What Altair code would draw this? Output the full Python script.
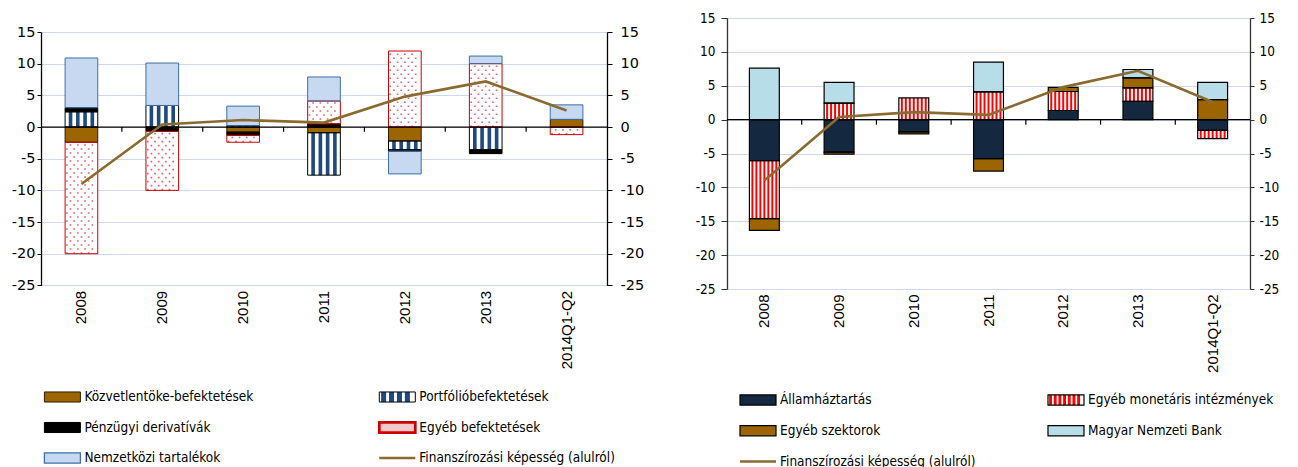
import altair as alt
import pandas as pd

years = ["2008", "2009", "2010", "2011", "2012", "2013", "2014Q1-Q2"]

# Left chart: financial account by instrument (% of GDP)
left_series = ["Közvetlentöke-befektetések", "Portfólióbefektetések", "Pénzügyi derivatívák",
               "Egyéb befektetések", "Nemzetközi tartalékok"]
fdi = [-2.4, -0.2, -0.8, -0.9, -2.2, 0.0, 1.2]
portfolio = [2.4, 3.4, 0.2, -6.7, -1.4, -3.6, 0.0]
derivatives = [0.65, -0.5, -0.5, 0.5, -0.2, -0.6, 0.0]
other_inv = [-17.6, -9.3, -1.1, 3.6, 12.0, 10.0, -1.2]
reserves = [7.85, 6.7, 3.1, 3.8, -3.6, 1.2, 2.3]

# Right chart: by sector
right_series = ["Államháztartás", "Egyéb monetáris intézmények", "Egyéb szektorok", "Magyar Nemzeti Bank"]
government = [-6.05, -4.8, -1.8, -5.75, 1.35, 2.7, -1.6]
other_mfi = [-8.55, 2.45, 3.2, 4.1, 2.8, 2.0, -1.2]
other_sectors = [-1.75, -0.3, -0.3, -1.85, 0.6, 1.45, 2.95]
mnb = [7.6, 3.05, 0.0, 4.4, 0.0, 1.25, 2.55]

financing = [-9.0, 0.4, 1.1, 0.7, 4.8, 7.2, 2.6]
line_label = "Finanszírozási képesség (alulról)"

y_ticks = [-25, -20, -15, -10, -5, 0, 5, 10, 15]

LINE_COL = "#8b6a2f"
FONT_NARROW = "DejaVu Sans Condensed"
LABEL_EXPR = "'' + datum.value"


def stack(names, lists):
    rows = []
    for i, yr in enumerate(years):
        pos, neg = 0.0, 0.0
        for k, (nm, vals) in enumerate(zip(names, lists)):
            v = vals[i]
            if v == 0:
                continue
            if v > 0:
                lo, hi = pos, pos + v
                pos = hi
            else:
                lo, hi = neg + v, neg
                neg = lo
            rows.append({"year": yr, "series": nm, "order": k, "lo": lo, "hi": hi})
    return pd.DataFrame(rows)


def expand(df, name, n):
    sub = df[df["series"] == name]
    rows = []
    for _, r in sub.iterrows():
        for s in range(n):
            d = r.to_dict()
            d["s"] = s
            rows.append(d)
    return pd.DataFrame(rows)


def panel(names, lists, W, H, top, band, fills, strokes, widths, stripe_name, stripe_n, stripe_col,
          yfont, yfs, lpadL, tickL, lpadR, tickR, domcol, dots_name=None):
    df = stack(names, lists)
    step = W / len(years)
    bw = step * band
    off_range = [(step - bw) / 2, (step + bw) / 2]
    xs = alt.Scale(domain=years, paddingInner=0, paddingOuter=0)
    xax = alt.Axis(title=None, labelAngle=270, domain=False, ticks=False, labelPadding=5,
                   labelFont="Liberation Sans", labelFontSize=15, labelColor="black", grid=False)
    X = alt.X("year:N", scale=xs, axis=xax, sort=years)
    ys = alt.Scale(domain=[-25, 15], nice=False, zero=False, range=[H, top])
    yax = alt.Axis(title=None, values=y_ticks, grid=True, gridColor="#cdd9ee", gridWidth=1,
                   domainColor=domcol, domainWidth=1.3, tickColor=domcol, tickSize=tickL,
                   labelPadding=lpadL, labelFont=yfont, labelFontSize=yfs, labelColor="black",
                   labelExpr=LABEL_EXPR)

    def Y(f):
        return alt.Y(f, scale=ys, axis=yax)

    base = alt.Chart(df).mark_bar(width=alt.RelativeBandSize(band)).encode(
        x=X, y=Y("lo:Q"), y2="hi:Q",
        fill=alt.Fill("series:N", scale=alt.Scale(domain=names, range=fills), legend=None))

    layers = [base]
    sd = expand(df, stripe_name, stripe_n)
    sd = sd[sd["s"] % 2 == 1]
    stripes = alt.Chart(sd).mark_bar(color=stripe_col).encode(
        x=X, xOffset=alt.XOffset("s:O", scale=alt.Scale(domain=list(range(stripe_n)), paddingInner=0,
                                                        paddingOuter=0, range=off_range)),
        y=Y("lo:Q"), y2="hi:Q")
    layers.append(stripes)

    if dots_name is not None:
        nd = 8
        dd = expand(df, dots_name, nd)
        for parity, off in [(0, 0), (1, 4)]:
            part = dd[dd["s"] % 2 == parity]
            dots = alt.Chart(part).mark_rule(color="#e06a6a", strokeWidth=1.7, strokeDash=[1.6, 6.4],
                                             strokeDashOffset=off).encode(
                x=X, xOffset=alt.XOffset("s:O", scale=alt.Scale(domain=list(range(nd)), paddingInner=0,
                                                                paddingOuter=0, range=off_range)),
                y=Y("lo:Q"), y2="hi:Q")
            layers.append(dots)

    outline = alt.Chart(df).mark_bar(width=alt.RelativeBandSize(band), fillOpacity=0).encode(
        x=X, y=Y("lo:Q"), y2="hi:Q",
        stroke=alt.Stroke("series:N", scale=alt.Scale(domain=names, range=strokes), legend=None),
        strokeWidth=alt.StrokeWidth("series:N", scale=alt.Scale(domain=names, range=widths), legend=None))
    layers.append(outline)

    zero = alt.Chart(pd.DataFrame({"v": [0]})).mark_rule(color="black", strokeWidth=1.2).encode(
        y=Y("v:Q"))
    layers.append(zero)
    ticks = alt.Chart(pd.DataFrame({"year": years[1:], "a": 0, "b": -0.75})).mark_rule(
        color="black", strokeWidth=1.2).encode(
        x=alt.X("year:N", scale=xs, axis=xax, sort=years, bandPosition=0), y=Y("a:Q"), y2="b:Q")
    layers.append(ticks)

    ld = pd.DataFrame({"year": years, "value": financing})
    line = alt.Chart(ld).mark_line(color=LINE_COL, strokeWidth=2.6).encode(x=X, y=Y("value:Q"))
    layers.append(line)

    inner = alt.layer(*layers)
    yax_r = alt.Axis(title=None, orient="right", values=y_ticks, grid=False,
                     domainColor=domcol, domainWidth=1.3, tickColor=domcol, tickSize=tickR,
                     labelPadding=lpadR, labelFont=yfont, labelFontSize=yfs, labelColor="black",
                     labelExpr=LABEL_EXPR)
    right_ax = alt.Chart(pd.DataFrame({"v": [0]})).mark_rule(opacity=0).encode(
        y=alt.Y("v:Q", scale=ys, axis=yax_r))
    return alt.layer(inner, right_ax).resolve_scale(y="independent").properties(width=W, height=H)


left = panel(left_series, [fdi, portfolio, derivatives, other_inv, reserves], 566, 267.4, 14, 0.404,
             ["#9c6500", "#ffffff", "#000000", "#ffffff", "#c6d9f1"],
             ["#2b1c00", "#000000", "#000000", "#cc0000", "#3f6ea8"],
             [1, 1, 1, 2.8, 1.3],
             "Portfólióbefektetések", 9, "#1f4a80",
             "DejaVu Sans", 14.5, 2, 4, 8, 5, "#000000", dots_name="Egyéb befektetések")

right = panel(right_series, [government, other_mfi, other_sectors, mnb], 523, 271, 0, 0.40,
              ["#14283f", "#ffffff", "#9c6500", "#b7dde8"],
              ["#000000", "#000000", "#000000", "#000000"],
              [1.2, 1.2, 1.2, 1.2],
              "Egyéb monetáris intézmények", 15, "#ff0000",
              FONT_NARROW, 13.5, 6, 6, 5, 4, "#333333")


def legend(entries, W, xr, yr):
    xs = alt.Scale(type="point", domain=[0, 1], range=xr, padding=0)
    ys = alt.Scale(type="point", domain=[0, 1, 2], range=yr, padding=0)
    rect_path = "M-1,-0.28H1V0.28H-1Z"
    layers = []
    for lab, col, row, kind, fill, stroke, sw, scol, spath in entries:
        d = pd.DataFrame({"label": [lab], "col": [col], "row": [row]})
        enc = dict(x=alt.X("col:O", scale=xs, axis=None), y=alt.Y("row:O", scale=ys, axis=None))
        if kind == "line":
            layers.append(alt.Chart(d).mark_point(shape="M-1,0H1", size=1296, filled=False,
                                                  stroke=LINE_COL, strokeWidth=2.6, xOffset=18,
                                                  opacity=1).encode(**enc))
        else:
            layers.append(alt.Chart(d).mark_point(shape=rect_path, size=1296, filled=True, fill=fill,
                                                  fillOpacity=1, opacity=1, xOffset=18).encode(**enc))
            if spath:
                layers.append(alt.Chart(d).mark_point(shape=spath, size=1296, filled=True, fill=scol,
                                                      fillOpacity=1, opacity=1, xOffset=18).encode(**enc))
            layers.append(alt.Chart(d).mark_point(shape=rect_path, size=1296, filled=False, stroke=stroke,
                                                  strokeWidth=sw, opacity=1, xOffset=18).encode(**enc))
        layers.append(alt.Chart(d).mark_text(align="left", baseline="middle", xOffset=40,
                                             font=FONT_NARROW, fontSize=13.5, color="black").encode(
            text="label:N", **enc))
    return alt.layer(*layers).properties(width=W, height=65)


blue_stripes = "M-0.9,-0.28H-0.62V0.28H-0.9Z M-0.46,-0.28H-0.18V0.28H-0.46Z M-0.02,-0.28H0.26V0.28H-0.02Z M0.42,-0.28H0.7V0.28H0.42Z"
red_stripes = "".join("M%.2f,-0.28H%.2fV0.28H%.2fZ " % (x, x + 0.16, x) for x in [-0.94, -0.68, -0.42, -0.16, 0.1, 0.36, 0.62])

left_leg = legend([
    (left_series[0], 0, 0, "rect", "#9c6500", "#2b1c00", 1, None, None),
    (left_series[2], 0, 1, "rect", "#000000", "#000000", 1, None, None),
    (left_series[4], 0, 2, "rect", "#c6d9f1", "#3f6ea8", 1.3, None, None),
    (left_series[1], 1, 0, "rect", "#ffffff", "#000000", 1, "#1f4a80", blue_stripes),
    (left_series[3], 1, 1, "rect", "#f3c9c9", "#cc0000", 2.7, None, None),
    (line_label, 1, 2, "line", None, None, None, None, None),
], 566, [3.4, 338.3], [0, 61])

right_leg = legend([
    (right_series[0], 0, 0, "rect", "#14283f", "#000000", 1.2, None, None),
    (right_series[2], 0, 1, "rect", "#9c6500", "#000000", 1.2, None, None),
    (line_label, 0, 2, "line", None, None, None, None, None),
    (right_series[1], 1, 0, "rect", "#ffffff", "#000000", 1.2, "#ff0000", red_stripes),
    (right_series[3], 1, 1, "rect", "#b7dde8", "#000000", 1.2, None, None),
], 523, [13, 321], [3, 64.5])

chart = alt.concat(left, right, left_leg, right_leg, columns=2, bounds="flush",
                   spacing=alt.RowColnumber(row=108, column=120)).resolve_scale(
    fill="independent", stroke="independent", strokeWidth="independent", xOffset="independent"
).properties(
    padding={"left": 3, "top": 3, "right": 5, "bottom": 5}, background="white"
).configure_view(stroke=None)

chart.save("out.html", embed_options={"renderer": "svg", "actions": False})
